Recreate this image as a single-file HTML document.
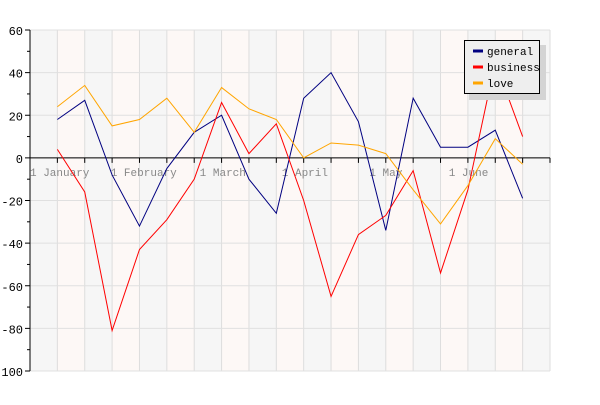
<!DOCTYPE html>
<html><head><meta charset="utf-8"><style>
body{margin:0;background:#fff;width:600px;height:400px;overflow:hidden}
svg text{font-family:"Liberation Mono",monospace}
</style></head><body>
<svg width="600" height="400" id="c"></svg>
<script>
const categories=["c1","c2","c3","c4","c5","c6","c7","c8","c9","c10","c11","c12","c13","c14","c15","c16","c17","c18"];
const general=[18,27,-8,-32,-5,12,20,-10,-26,28,40,17,-34,28,5,5,13,-19];
const business=[4,-16,-81,-43,-29,-10,26,2,16,-20,-65,-36,-27,-6,-54,-15,45,10];
const love=[24,34,15,18,28,12,33,23,18,0,7,6,2,-15,-31,-13,9,-3];
const yTicks=[60,40,20,0,-20,-40,-60,-80,-100];
const monthLabels=["1 January","1 February","1 March","1 April","1 May","1 June"];
const monthPos=[0,2.95,6.2,9.2,12.4,15.3];
const NS="http://www.w3.org/2000/svg",svg=document.getElementById('c');
const X0=30,X1=550,Y0=30,Y1=371,cols=19,cw=(X1-X0)/cols;
const x=i=>X0+cw*(i+1), y=v=>Y0+(60-v)*(Y1-Y0)/160;
function el(t,a,p){const e=document.createElementNS(NS,t);for(const k in a)e.setAttribute(k,a[k]);(p||svg).appendChild(e);return e;}
for(let i=0;i<cols;i++){const r=el('rect',{x:X0+i*cw,y:Y0,width:cw,height:Y1-Y0,fill:i%2?'#fdf8f6':'#f6f6f6'});

}
for(let i=0;i<=cols;i++){const l=el('line',{x1:X0+i*cw,x2:X0+i*cw,y1:Y0,y2:Y1,stroke:'#ddd'});

}
yTicks.forEach(v=>{const l=el('line',{x1:X0,x2:X1,y1:y(v),y2:y(v),stroke:'#e0e0e0'});


const t=el('text',{x:23,y:y(v)+5,'text-anchor':'end','font-size':12,fill:'#000'});t.textContent=v;


el('line',{x1:X0-5,x2:X0,y1:y(v),y2:y(v),stroke:'#000'});
if(v>-100)el('line',{x1:X0-3,x2:X0,y1:y(v-10),y2:y(v-10),stroke:'#000'});});
el('line',{x1:X0,x2:X0,y1:Y0,y2:Y1,stroke:'#000'});
el('line',{x1:X0,x2:X1,y1:y(0),y2:y(0),stroke:'#000'});
for(let i=0;i<=cols;i++)el('line',{x1:X0+i*cw,x2:X0+i*cw,y1:y(0),y2:y(0)+5,stroke:'#000'});
monthLabels.forEach((m,i)=>{const t=el('text',{x:X0+monthPos[i]*cw,y:y(0)+18,'font-size':11,fill:'#888'});t.textContent=m;

});
[[general,'#000080','general'],[business,'#ff0000','business'],[love,'#ffa500','love']].forEach(([d,c,n])=>{
const p=el('polyline',{points:d.map((v,i)=>x(i)+','+y(v)).join(' '),fill:'none',stroke:c,'stroke-width':1});

});
const g=el('g',{});


el('rect',{x:469,y:45,width:77,height:55,fill:'#d4d4d4'},g);
el('rect',{x:464.5,y:40.5,width:75,height:53,fill:'#eee',stroke:'#000'},g);
[['general','#000080'],['business','#ff0000'],['love','#ffa500']].forEach(([n,c],i)=>{
el('line',{x1:473,x2:483,y1:51+i*16,y2:51+i*16,stroke:c,'stroke-width':3},g);
const t=el('text',{x:487,y:55+i*16,'font-size':11,fill:'#000'},g);t.textContent=n;

});
</script>
</body></html>
